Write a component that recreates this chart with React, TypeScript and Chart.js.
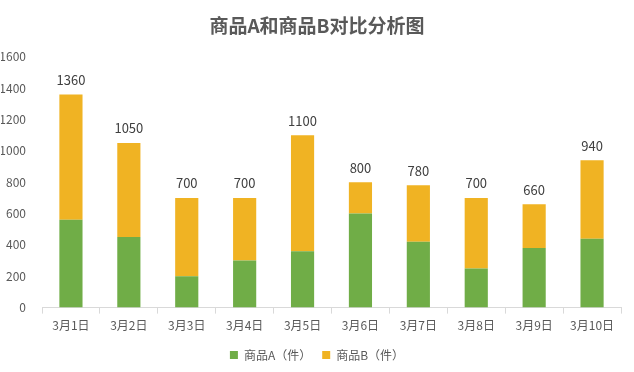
import React, { useEffect, useRef } from "react";
import { Chart, registerables } from "chart.js";

Chart.register(...registerables);

const categories = ["3月1日", "3月2日", "3月3日", "3月4日", "3月5日", "3月6日", "3月7日", "3月8日", "3月9日", "3月10日"];
const productA = [560, 450, 200, 300, 360, 600, 420, 250, 380, 440];
const productB = [800, 600, 500, 400, 740, 200, 360, 450, 280, 500];
const yTicks = [0, 200, 400, 600, 800, 1000, 1200, 1400, 1600];

const FONT = "'Noto Sans CJK SC', 'Noto Sans', sans-serif";

const totalsPlugin = {
  id: "totals",
  afterDatasetsDraw(chart: any) {
    const ctx = chart.ctx;
    const metaTop = chart.getDatasetMeta(chart.data.datasets.length - 1);
    ctx.save();
    ctx.font = `13px ${FONT}`;
    ctx.fillStyle = "#404040";
    ctx.textAlign = "center";
    ctx.textBaseline = "bottom";
    metaTop.data.forEach((el: any, i: number) => {
      const total = productA[i] + productB[i];
      ctx.fillText(String(total), el.x, el.y - 8);
    });
    ctx.restore();
  },
};

export default function App() {
  const ref = useRef<HTMLCanvasElement>(null);
  useEffect(() => {
    document.body.style.margin = "0";
    const chart = new Chart(ref.current!, {
      type: "bar",
      data: {
        labels: categories,
        datasets: [
          { label: "商品A（件）", data: productA, backgroundColor: "#70AD47", categoryPercentage: 1, barPercentage: 0.4 },
          { label: "商品B（件）", data: productB, backgroundColor: "#F0B323", categoryPercentage: 1, barPercentage: 0.4 },
        ],
      },
      options: {
        animation: false,
        responsive: false,
        layout: { padding: { left: 1, right: 1, top: 6, bottom: 1 } },
        plugins: {
          title: {
            display: true,
            text: "商品A和商品B对比分析图",
            color: "#595959",
            font: { family: FONT, size: 19, weight: "bold" },
            padding: { top: 8, bottom: 20 },
          },
          legend: {
            position: "bottom",
            labels: {
              boxWidth: 8,
              boxHeight: 8,
              color: "#595959",
              font: { family: FONT, size: 12 },
              padding: 11,
            },
          },
          tooltip: { enabled: false },
        },
        scales: {
          x: {
            stacked: true,
            grid: { display: true, drawOnChartArea: false, color: "#d9d9d9", tickLength: 6, offset: true },
            border: { display: true, color: "#d9d9d9" },
            ticks: { color: "#595959", font: { family: FONT, size: 12 }, padding: 5 },
          },
          y: {
            stacked: true,
            min: 0,
            max: 1600,
            afterBuildTicks: (axis: any) => {
              axis.ticks = yTicks.map((v) => ({ value: v }));
            },
            afterFit: (axis: any) => {
              axis.width = 41;
            },
            grid: { display: false },
            border: { display: false },
            ticks: {
              color: "#595959",
              font: { family: FONT, size: 12 },
              padding: 8,
              callback: (v: any) => String(v),
            },
          },
          yRight: {
            type: "linear",
            position: "right",
            display: true,
            min: 0,
            max: 1600,
            afterFit: (axis: any) => {
              axis.width = 12;
            },
            grid: { display: false },
            border: { display: false },
            ticks: { display: false },
          },
        },
      },
      plugins: [totalsPlugin],
    } as any);
    return () => chart.destroy();
  }, []);
  return (
    <div style={{ width: 634, height: 372 }}>
      <canvas ref={ref} width={634} height={372} />
    </div>
  );
}
